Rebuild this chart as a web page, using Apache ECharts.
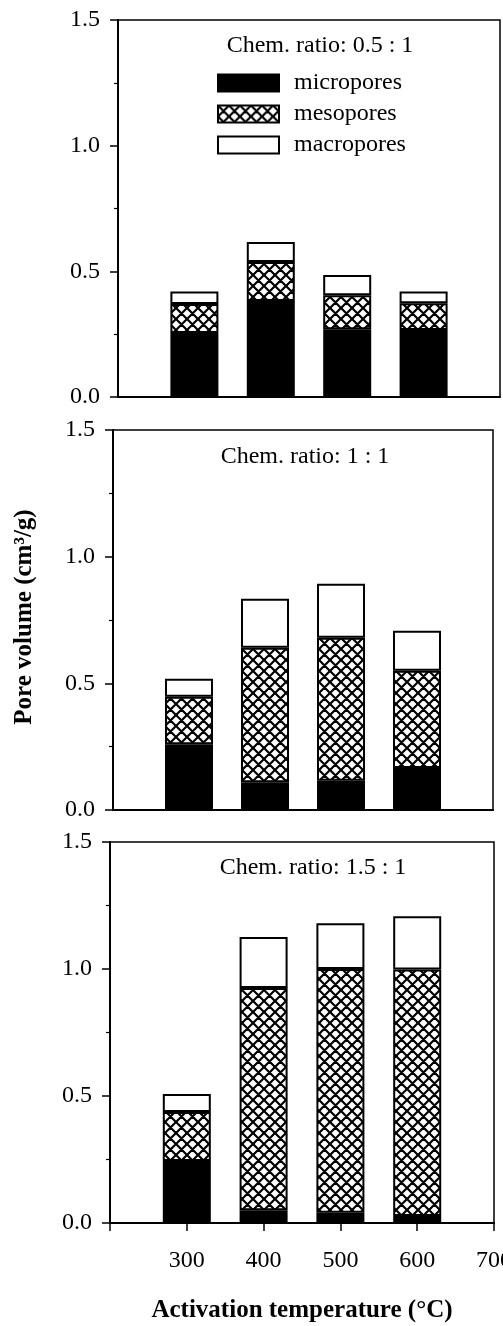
<!DOCTYPE html>
<html><head><meta charset="utf-8">
<script src="https://cdn.jsdelivr.net/npm/echarts@6/dist/echarts.min.js"></script>
<style>html,body{margin:0;padding:0;background:#fff}#c{width:503px;height:1326px}</style>
</head><body><div id="c"></div>
<script>
const xCategories = ['200', '300', '400', '500', '600', '700'];
const xTickLabels = ['', '300', '400', '500', '600', '700'];
const yTickLabels = ['0.0', '0.5', '1.0', '1.5'];
const panelTitles = ['Chem. ratio: 0.5 : 1', 'Chem. ratio: 1 : 1', 'Chem. ratio: 1.5 : 1'];
const seriesNames = ['micropores', 'mesopores', 'macropores'];

// values per category 200..700 (no bars at 200 and 700)
const micro05 = [null, 0.255, 0.382, 0.270, 0.267, null];
const meso05  = [null, 0.115, 0.155, 0.135, 0.106, null];
const macro05 = [null, 0.050, 0.080, 0.080, 0.047, null];

const micro10 = [null, 0.260, 0.110, 0.115, 0.166, null];
const meso10  = [null, 0.187, 0.530, 0.565, 0.384, null];
const macro10 = [null, 0.071, 0.194, 0.213, 0.158, null];

const micro15 = [null, 0.244, 0.050, 0.040, 0.028, null];
const meso15  = [null, 0.193, 0.875, 0.960, 0.970, null];
const macro15 = [null, 0.071, 0.201, 0.180, 0.210, null];

const panels = [
  [micro05, meso05, macro05],
  [micro10, meso10, macro10],
  [micro15, meso15, macro15]
];

function hatchCanvas() {
  const s = 11;
  const c = document.createElement('canvas');
  c.width = s; c.height = s;
  const g = c.getContext('2d');
  g.fillStyle = '#fff'; g.fillRect(0, 0, s, s);
  g.strokeStyle = '#000'; g.lineWidth = 2.2;
  g.beginPath();
  for (const d of [-s, 0, s]) {
    g.moveTo(d, 0); g.lineTo(d + s, s);
    g.moveTo(d, s); g.lineTo(d + s, 0);
  }
  g.stroke();
  return c;
}
const hatch = { image: hatchCanvas(), repeat: 'repeat' };
const fills = ['#000', hatch, '#fff'];

const FONT = '"Liberation Serif", "Times New Roman", serif';

const gridDefs = [
  { left: 118, right: 3, top: 20, height: 377 },
  { left: 113, right: 10, top: 430, height: 380 },
  { left: 110, right: 9, top: 842, height: 381 }
];

const grids = gridDefs.map(g => Object.assign({
  show: true, borderColor: '#000', borderWidth: 1.5, backgroundColor: 'transparent',
  containLabel: false, outerBoundsMode: 'none'
}, g));

const xAxes = gridDefs.map((g, p) => ({
  type: 'category', gridIndex: p, data: xCategories, boundaryGap: false,
  axisLine: { show: true, onZero: false, lineStyle: { color: '#000', width: 2 } },
  axisTick: { show: p === 2, length: 8, alignWithLabel: true, lineStyle: { color: '#000', width: 1.5 } },
  axisLabel: {
    show: p === 2, margin: 26, color: '#000', fontFamily: FONT, fontSize: 24, interval: 0,
    formatter: (v, i) => xTickLabels[i]
  },
  splitLine: { show: false }
}));

const yAxes = gridDefs.map((g, p) => ({
  type: 'value', gridIndex: p, min: 0, max: 1.5, interval: 0.5,
  axisLine: { show: true, lineStyle: { color: '#000', width: 2 } },
  axisTick: { show: true, length: 8, lineStyle: { color: '#000', width: 1.5 } },
  minorTick: { show: true, splitNumber: 2, length: 4, lineStyle: { color: '#000', width: 1.2 } },
  axisLabel: {
    margin: 18, color: '#000', fontFamily: FONT, fontSize: 24,
    formatter: v => yTickLabels[Math.round(v / 0.5)]
  },
  splitLine: { show: false }
}));

const series = [];
panels.forEach((arrs, p) => {
  arrs.forEach((arr, k) => {
    series.push({
      type: 'bar', name: seriesNames[k], xAxisIndex: p, yAxisIndex: p, stack: 'p' + p,
      barWidth: 48,
      data: arr,
      itemStyle: { color: fills[k], borderColor: '#000', borderWidth: 2 },
      emphasis: { disabled: true },
      animation: false
    });
  });
});

const titlePos = [[320, 46], [305, 457], [313, 868]];
const graphics = panelTitles.map((t, p) => ({
  type: 'text', x: titlePos[p][0], y: titlePos[p][1],
  style: { text: t, font: '24px ' + FONT, fill: '#000', textAlign: 'center', textVerticalAlign: 'middle' }
}));
graphics.push({
  type: 'text', x: 25, y: 617, rotation: Math.PI / 2,
  style: { text: 'Pore volume (cm³/g)', font: 'bold 25px ' + FONT, fill: '#000', textAlign: 'center', textVerticalAlign: 'middle' }
});
graphics.push({
  type: 'text', x: 302, y: 1311,
  style: { text: 'Activation temperature (°C)', font: 'bold 25px ' + FONT, fill: '#000', textAlign: 'center', textVerticalAlign: 'middle' }
});

const chart = echarts.init(document.getElementById('c'), null, { renderer: 'canvas' });
chart.setOption({
  animation: false,
  backgroundColor: '#fff',
  grid: grids,
  xAxis: xAxes,
  yAxis: yAxes,
  legend: {
    data: seriesNames, orient: 'vertical', left: 217, top: 71, padding: 0,
    itemWidth: 61, itemHeight: 17, itemGap: 7,
    icon: 'rect', selectedMode: false,
    itemStyle: { borderWidth: 2 },
    textStyle: { color: '#000', fontFamily: FONT, fontSize: 24, padding: [0, 0, 0, 10] }
  },
  series: series,
  graphic: graphics
});
</script></body></html>
